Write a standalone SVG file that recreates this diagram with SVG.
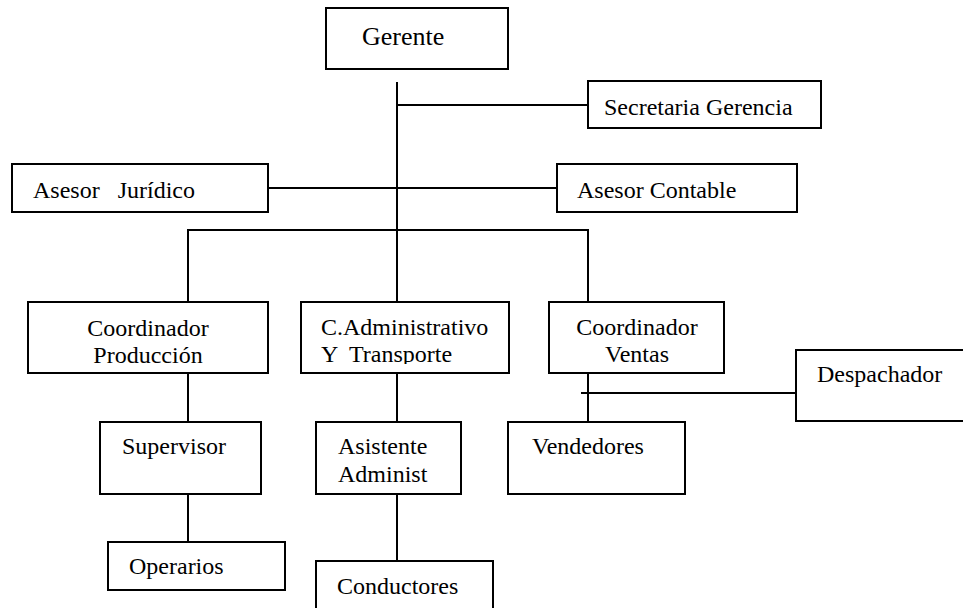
<svg xmlns="http://www.w3.org/2000/svg" width="963" height="608" viewBox="0 0 963 608">
  <style>
    .box { fill: #ffffff; stroke: #000000; stroke-width: 2; }
    .lbl { font-family: "Liberation Serif", "Times New Roman", serif; font-size: 24px; fill: #000000; }
    .mid { text-anchor: middle; }
    .wire { fill: none; stroke: #000000; stroke-width: 2; }
  </style>
  <defs>
    <clipPath id="clip-cadmin">
      <rect x="301" y="302" width="208" height="62"/>
    </clipPath>
  </defs>
  <rect width="963" height="608" fill="#ffffff"/>

  <!-- connectors -->
  <g id="connectors">
    <path class="wire" d="M397 82 V301"/>
    <path class="wire" d="M397 105 H588"/>
    <path class="wire" d="M268 188 H557"/>
    <path class="wire" d="M188 301 V230 H588 V301"/>
    <path class="wire" d="M188 373 V422"/>
    <path class="wire" d="M397 373 V422"/>
    <path class="wire" d="M588 373 V422"/>
    <path class="wire" d="M581 393 H796"/>
    <path class="wire" d="M188 494 V542"/>
    <path class="wire" d="M397 489 V561"/>
  </g>

  <g id="gerente">
    <rect class="box" x="326" y="8" width="182" height="61"/>
    <text class="lbl" x="362" y="45" style="font-size:26px">Gerente</text>
  </g>

  <g id="secretaria">
    <rect class="box" x="588" y="81" width="233" height="47"/>
    <text class="lbl" x="604" y="115">Secretaria Gerencia</text>
  </g>

  <g id="asesor-juridico">
    <rect class="box" x="12" y="164" width="256" height="48"/>
    <text class="lbl" x="33" y="198" xml:space="preserve">Asesor   Jurídico</text>
  </g>

  <g id="asesor-contable">
    <rect class="box" x="557" y="164" width="240" height="48"/>
    <text class="lbl" x="577" y="198">Asesor Contable</text>
  </g>

  <g id="coord-produccion">
    <rect class="box" x="28" y="302" width="240" height="71"/>
    <text class="lbl mid" x="148" y="336">Coordinador</text>
    <text class="lbl mid" x="148" y="363">Producción</text>
  </g>

  <g id="coord-administrativo">
    <rect class="box" x="301" y="302" width="208" height="71"/>
    <g clip-path="url(#clip-cadmin)">
      <text class="lbl" x="321" y="335">C.Administrativo</text>
      <text class="lbl" x="321" y="362" xml:space="preserve">Y  Transporte</text>
    </g>
  </g>

  <g id="coord-ventas">
    <rect class="box" x="549" y="302" width="175" height="71"/>
    <text class="lbl mid" x="637" y="335">Coordinador</text>
    <text class="lbl mid" x="637" y="362">Ventas</text>
  </g>

  <g id="despachador">
    <rect class="box" x="796" y="350" width="190" height="71"/>
    <text class="lbl" x="817" y="382">Despachador</text>
  </g>

  <g id="supervisor">
    <rect class="box" x="100" y="422" width="161" height="72"/>
    <text class="lbl" x="122" y="454">Supervisor</text>
  </g>

  <g id="asistente">
    <rect class="box" x="316" y="422" width="145" height="72"/>
    <text class="lbl" x="338" y="454">Asistente</text>
    <text class="lbl" x="338" y="482">Administ</text>
  </g>

  <g id="vendedores">
    <rect class="box" x="508" y="422" width="177" height="72"/>
    <text class="lbl" x="532" y="454">Vendedores</text>
  </g>

  <g id="operarios">
    <rect class="box" x="108" y="542" width="177" height="48"/>
    <text class="lbl" x="129" y="574">Operarios</text>
  </g>

  <g id="conductores">
    <rect class="box" x="316" y="561" width="177" height="60"/>
    <text class="lbl" x="337" y="594">Conductores</text>
  </g>
</svg>
